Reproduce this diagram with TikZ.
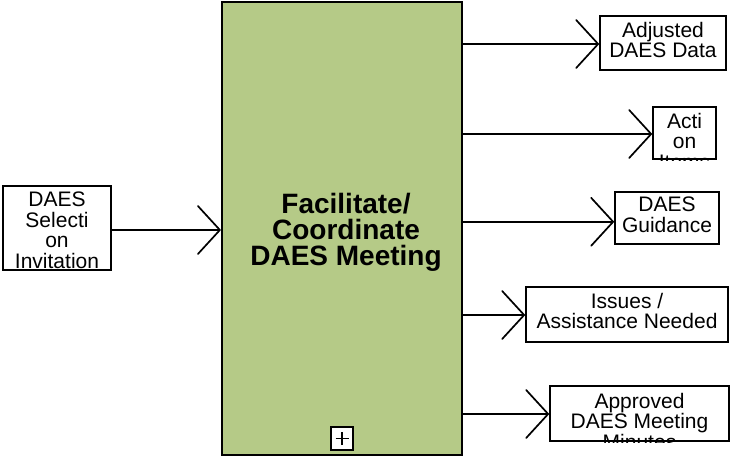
\documentclass[tikz,border=0pt]{standalone}
\usepackage{fontspec}
\setmainfont{Liberation Sans}
\usetikzlibrary{arrows.meta}
\definecolor{boxgreen}{RGB}{181,202,135}
\begin{document}
\begin{tikzpicture}[x=1pt,y=-1pt,
  box/.style={draw=black, line width=2pt, fill=white, rectangle, inner sep=0pt},
  lbl/.style={font=\fontsize{21}{20.5}\selectfont, align=center, inner sep=0pt, anchor=north},
  conn/.style={line width=1.7pt, -{Straight Barb[length=22pt,width=48pt,round]}}]
\useasboundingbox (0,0) rectangle (731,458);
% main activity box
\node[draw=black, fill=boxgreen, line width=2.5pt, minimum width=240pt, minimum height=453pt, inner sep=0pt] (main) at (342,228.5) {};
\node[font=\bfseries\fontsize{28}{26}\selectfont, align=center, inner sep=0pt] (mainT) at (346,232.5) {Facilitate/\\Coordinate\\DAES Meeting};
\node[box, line width=1.6pt, minimum width=22pt, minimum height=23pt] (plus) at (342,438.5) {};
\draw[line width=1.5pt] ([xshift=-6.5pt]plus.center) -- ([xshift=6.5pt]plus.center)
  ([yshift=-6.5pt]plus.center) -- ([yshift=6.5pt]plus.center);
% boxes
\node[box, minimum width=108pt, minimum height=84pt] (sel) at (57,228) {};
\node[box, minimum width=126pt, minimum height=54pt] (adj) at (663,43) {};
\node[box, minimum width=63pt, minimum height=52pt] (act) at (684.5,133) {};
\node[box, minimum width=104pt, minimum height=52pt] (gui) at (667,217.5) {};
\node[box, minimum width=202pt, minimum height=55pt] (iss) at (627,314.5) {};
\node[box, minimum width=179pt, minimum height=55pt] (app) at (639.5,413.5) {};
% labels (clipped to their boxes)
\begin{scope}
\clip (sel.south west) rectangle (sel.north east);
\node[lbl] (selT) at ([yshift=-7pt]sel.north) {DAES\\Selecti\\on\\Invitation};
\end{scope}
\begin{scope}
\clip (adj.south west) rectangle (adj.north east);
\node[lbl] (adjT) at ([yshift=-7pt]adj.north) {Adjusted\\DAES Data};
\end{scope}
\begin{scope}
\clip (act.south west) rectangle (act.north east);
\node[lbl] (actT) at ([yshift=-7pt]act.north) {Acti\\on\\Items};
\end{scope}
\begin{scope}
\clip (gui.south west) rectangle (gui.north east);
\node[lbl] (guiT) at ([yshift=-6.5pt]gui.north) {DAES\\Guidance};
\end{scope}
\begin{scope}
\clip (iss.south west) rectangle (iss.north east);
\node[lbl] (issT) at ([yshift=-7pt]iss.north) {Issues /\\Assistance Needed};
\end{scope}
\begin{scope}
\clip (app.south west) rectangle (app.north east);
\node[lbl] (appT) at ([yshift=-8pt]app.north) {Approved\\DAES Meeting\\Minutes};
\end{scope}
% connectors
\draw[conn] ([yshift=-2pt]sel.east) -- ([yshift=-2pt]sel.east -| main.west);
\draw[conn] ([yshift=-1pt]main.east |- adj.west) -- ([yshift=-1pt]adj.west);
\draw[conn] ([yshift=-1pt]main.east |- act.west) -- ([yshift=-1pt]act.west);
\draw[conn] ([yshift=-4.3pt]main.east |- gui.west) -- ([yshift=-4.3pt]gui.west);
\draw[conn] ([yshift=-0.5pt]main.east |- iss.west) -- ([yshift=-0.5pt]iss.west);
\draw[conn] ([yshift=-0.5pt]main.east |- app.west) -- ([yshift=-0.5pt]app.west);
\end{tikzpicture}
\end{document}
